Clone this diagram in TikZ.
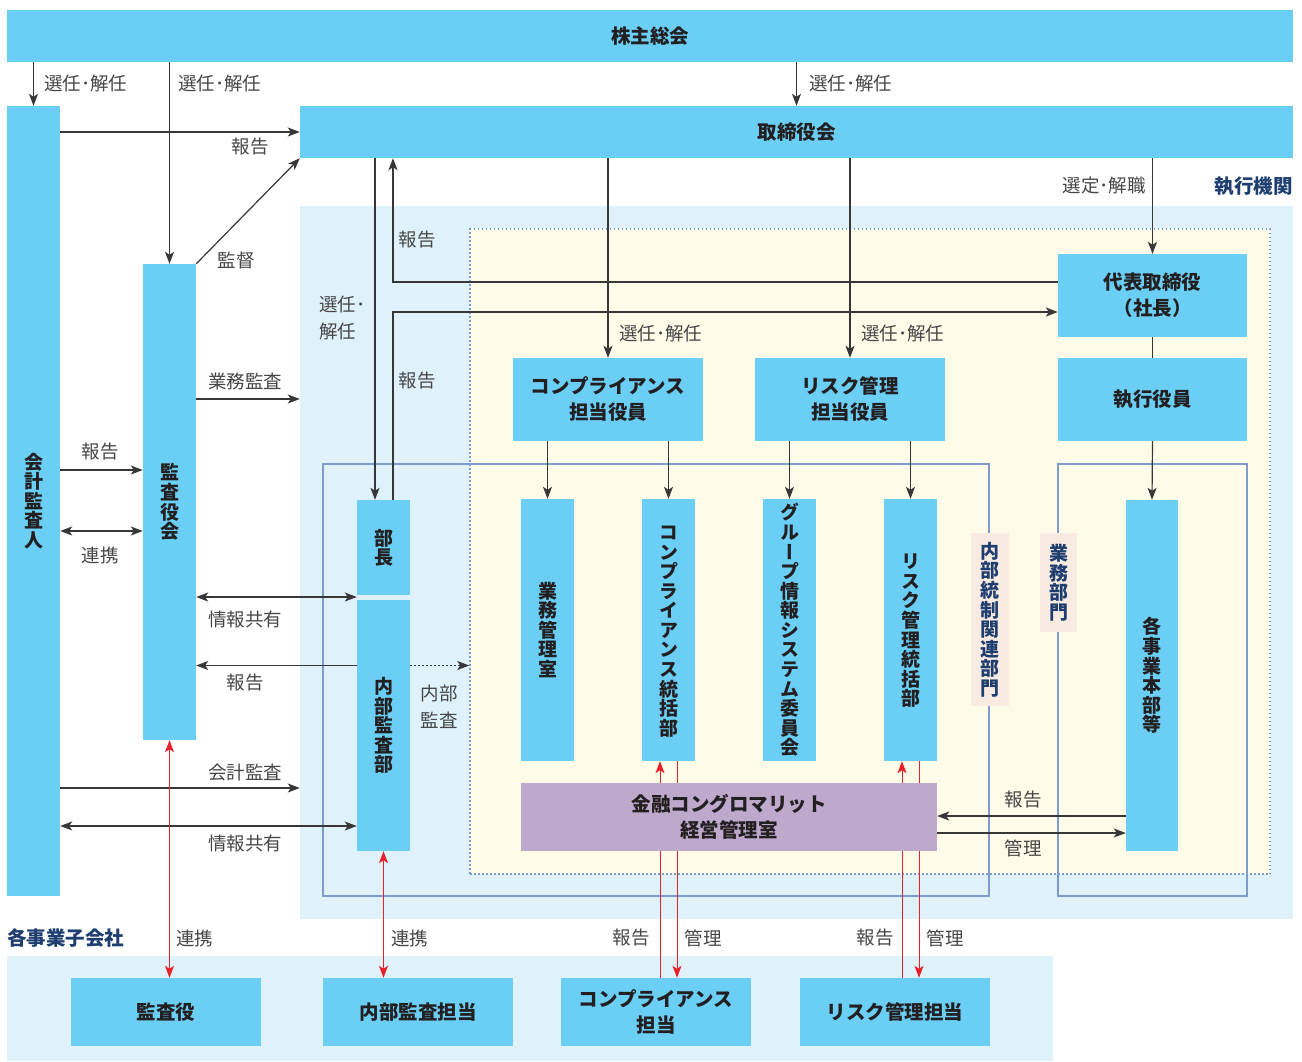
\documentclass[tikz,border=0pt]{standalone}
\usepackage{fontspec}
\usepackage{tikz}
\usetikzlibrary{arrows.meta}
\newfontfamily\jp{Noto Sans CJK JP}
\newfontfamily\jpv{Noto Sans CJK JP}[RawFeature=+vert]
\definecolor{orgcyan}{RGB}{106,206,245}
\definecolor{orgpale}{RGB}{223,242,251}
\definecolor{orgcream}{RGB}{255,251,233}
\definecolor{orgpurple}{RGB}{190,168,204}
\definecolor{orgframe}{RGB}{125,155,205}
\definecolor{orgpink}{RGB}{250,235,226}
\definecolor{orgnavy}{RGB}{30,62,112}
\definecolor{orgtext}{RGB}{35,31,32}
\definecolor{orggray}{RGB}{70,70,70}
\definecolor{orgline}{RGB}{55,55,55}
\definecolor{orgred}{RGB}{232,32,42}
\pgfdeclarelayer{back}
\pgfdeclarelayer{mid}
\pgfsetlayers{back,mid,main}
% vertical text: one character per row
\def\tatetext#1{\vbox{\offinterlineskip\tatechar#1\relax}}
\def\tatechar#1{\ifx\relax#1\else\hbox to 1em{\hss\vrule height .9em depth .13em width 0pt #1\hss}\expandafter\tatechar\fi}
\tikzset{
  box/.style={fill=orgcyan, text=orgtext, inner sep=0pt, align=center,
    font=\jp\bfseries\fontsize{19.5}{26}\selectfont},
  tbox/.style={fill=orgcyan, text=orgtext, inner sep=0pt,
    font=\jpv\bfseries\fontsize{19}{20}\selectfont},
  tag/.style={fill=orgpink, text=orgnavy, inner sep=0pt,
    font=\jpv\bfseries\fontsize{19}{20}\selectfont},
  area/.style={fill=orgpale, inner sep=0pt},
  lbl/.style={text=orggray, inner sep=0pt, font=\jp\fontsize{18.5}{27}\selectfont},
  head/.style={text=orgnavy, inner sep=0pt, font=\jp\bfseries\fontsize{19.5}{24}\selectfont},
  arr/.style={draw=orgline, line width=1.2pt},
  dotarr/.style={arr, line width=1.6pt, dash pattern=on 1.6pt off 2.4pt},
  rarr/.style={draw=orgred, line width=1pt},
  frame/.style={draw=orgframe, line width=2pt}
}

\begin{document}
\begin{tikzpicture}[x=1pt, y=-1pt, >={Stealth[length=12pt,width=9pt,inset=3pt]}]
  \useasboundingbox (0,0) rectangle (1302,1061);

  % areas
  \begin{pgfonlayer}{back}
    \node[area, minimum width=993pt, minimum height=713pt] (exec) at (796.5,562.5) {};
    \node[area, minimum width=1046pt, minimum height=105pt] (sub) at (530,1008.5) {};
    \node[fill=orgcream, draw=orgframe, line width=1.5pt, dash pattern=on 1.5pt off 2.5pt,
      inner sep=0pt, minimum width=800pt, minimum height=645pt] (cream) at (870,551.5) {};
    \draw[frame] (323,464) rectangle (989,896);
    \draw[frame] (1058,464) rectangle (1247,896);
  \end{pgfonlayer}

  % boxes
  \node[box, minimum width=1286pt, minimum height=52pt] (soukai) at (650,36) {株主総会};
  \node[box, minimum width=993pt, minimum height=52pt] (tori) at (796.5,132) {取締役会};
  \node[tbox, minimum width=53pt, minimum height=790pt] (kaikei) at (33.5,501) {\tatetext{会計監査人}};
  \node[tbox, minimum width=53pt, minimum height=476pt] (kansa) at (169.5,502) {\tatetext{監査役会}};
  \node[box, minimum width=189pt, minimum height=83pt] (daihyo) at (1152.5,295.5) {代表取締役\\（社長）};
  \node[box, minimum width=189pt, minimum height=83pt] (shikko) at (1152.5,399.5) {執行役員};
  \node[box, minimum width=190pt, minimum height=83pt] (compy) at (608,399.5) {コンプライアンス\\担当役員};
  \node[box, minimum width=190pt, minimum height=83pt] (risky) at (850,399.5) {リスク管理\\担当役員};
  \node[tbox, minimum width=53pt, minimum height=95pt] (bucho) at (383.5,547.5) {\tatetext{部長}};
  \node[tbox, minimum width=53pt, minimum height=251pt] (naibu) at (383.5,725.5) {\tatetext{内部監査部}};
  \node[tbox, minimum width=53pt, minimum height=262pt] (gyomu) at (547.5,630) {\tatetext{業務管理室}};
  \node[tbox, minimum width=53pt, minimum height=262pt] (compt) at (668.5,630) {\tatetext{コンプライアンス統括部}};
  \node[tbox, minimum width=53pt, minimum height=262pt] (group) at (789.5,630) {\tatetext{グループ情報システム委員会}};
  \node[tbox, minimum width=53pt, minimum height=262pt] (riskt) at (910.5,630) {\tatetext{リスク管理統括部}};
  \node[tbox, minimum width=52pt, minimum height=351pt] (kakuji) at (1152,675.5) {\tatetext{各事業本部等}};
  \node[box, fill=orgpurple, minimum width=416pt, minimum height=68pt] (kinyu) at (729,817) {金融コングロマリット\\経営管理室};
  \node[tag, minimum width=38pt, minimum height=173pt] (tagnaibu) at (989.5,619.5) {\tatetext{内部統制関連部門}};
  \node[tag, minimum width=37pt, minimum height=99pt] (taggyomu) at (1058.5,582.5) {\tatetext{業務部門}};
  \node[box, minimum width=190pt, minimum height=68pt] (kansayaku) at (166,1012) {監査役};
  \node[box, minimum width=190pt, minimum height=68pt] (naibutan) at (418,1012) {内部監査担当};
  \node[box, minimum width=190pt, minimum height=68pt] (comptan) at (656,1012) {コンプライアンス\\担当};
  \node[box, minimum width=190pt, minimum height=68pt] (risktan) at (895,1012) {リスク管理担当};

  % headings
  \node[head, anchor=east] (hexec) at (1293,186) {執行機関};
  \node[head, anchor=west] (hsub) at (7,938) {各事業子会社};

  % routing points
  \coordinate (xa) at (375,0);
  \coordinate (ra) at (393,282);
  \coordinate (rb) at (393,312);
  \coordinate (ya) at (0,470);
  \coordinate (yb) at (0,531);
  \coordinate (yc) at (0,399);
  \coordinate (yd) at (0,597);
  \coordinate (ye) at (0,665.5);
  \coordinate (yf) at (0,788);
  \coordinate (yg) at (0,826);
  \coordinate (yh) at (0,816);
  \coordinate (yi) at (0,833);
  \coordinate (xr1) at (660,0);
  \coordinate (xr2) at (677,0);
  \coordinate (xr3) at (902,0);
  \coordinate (xr4) at (919,0);

  % connectors
  \begin{pgfonlayer}{mid}
    \draw[arr,->] (kaikei.north |- soukai.south) -- (kaikei.north);
    \draw[arr,->] (kansa.north |- soukai.south) -- (kansa.north);
    \draw[arr,->] (tori.north |- soukai.south) -- (tori.north);
    \draw[arr,->] (kaikei.east |- tori.west) -- (tori.west);
    \draw[arr,->] (kansa.north east) -- (tori.south west);
    \draw[arr,->] (tori.south -| xa) -- (bucho.north -| xa);
    \draw[arr,->] (daihyo.west |- ra) -- (ra) -- (tori.south -| ra);
    \draw[arr,->] (bucho.north -| rb) -- (rb) -- (daihyo.west |- rb);
    \draw[arr,->] (tori.south -| compy.north) -- (compy.north);
    \draw[arr,->] (tori.south -| risky.north) -- (risky.north);
    \draw[arr,->] (tori.south -| daihyo.north) -- (daihyo.north);
    \draw[arr] (daihyo.south) -- (shikko.north);
    \draw[arr,->] (shikko.south) -- (kakuji.north);
    \draw[arr,->] (compy.south -| gyomu.north) -- (gyomu.north);
    \draw[arr,->] (compy.south -| compt.north) -- (compt.north);
    \draw[arr,->] (risky.south -| group.north) -- (group.north);
    \draw[arr,->] (risky.south -| riskt.north) -- (riskt.north);
    \draw[arr,->] (kaikei.east |- ya) -- (kansa.west |- ya);
    \draw[arr,<->] (kaikei.east |- yb) -- (kansa.west |- yb);
    \draw[arr,->] (kansa.east |- yc) -- (exec.west |- yc);
    \draw[arr,<->] (kansa.east |- yd) -- (bucho.west |- yd);
    \draw[arr,->] (naibu.west |- ye) -- (kansa.east |- ye);
    \draw[dotarr,->] (naibu.east |- ye) -- (cream.west |- ye);
    \draw[arr,->] (kaikei.east |- yf) -- (exec.west |- yf);
    \draw[arr,<->] (kaikei.east |- yg) -- (naibu.west |- yg);
    \draw[arr,->] (kakuji.west |- yh) -- (kinyu.east |- yh);
    \draw[arr,->] (kinyu.east |- yi) -- (kakuji.west |- yi);
    \draw[rarr,<->] (kansa.south) -- (kansa.south |- kansayaku.north);
    \draw[rarr,<->] (naibu.south) -- (naibu.south |- naibutan.north);
    \draw[rarr,->] (comptan.north -| xr1) -- (compt.south -| xr1);
    \draw[rarr,->] (compt.south -| xr2) -- (comptan.north -| xr2);
    \draw[rarr,->] (risktan.north -| xr3) -- (riskt.south -| xr3);
    \draw[rarr,->] (riskt.south -| xr4) -- (risktan.north -| xr4);
  \end{pgfonlayer}

  % connector labels
  \node[lbl, anchor=west] (lsen1) at (44,83) {選任･解任};
  \node[lbl, anchor=west] (lsen2) at (178,83) {選任･解任};
  \node[lbl, anchor=west] (lsen3) at (809,83) {選任･解任};
  \node[lbl] (lhou1) at (250,147) {報告};
  \node[lbl] (lkan) at (236,260) {監督};
  \node[lbl] (lhou2) at (417,240) {報告};
  \node[lbl] (lhou3) at (417,381) {報告};
  \node[lbl, anchor=west, align=left] (lsen4) at (319,318) {選任･\\解任};
  \node[lbl, anchor=west] (lsen5) at (619,333) {選任･解任};
  \node[lbl, anchor=west] (lsen6) at (861,333) {選任･解任};
  \node[lbl, anchor=east] (lsentei) at (1146,186) {選定･解職};
  \node[lbl] (lhou4) at (100,452) {報告};
  \node[lbl] (lren1) at (100,555) {連携};
  \node[lbl] (lgyo) at (245,381) {業務監査};
  \node[lbl] (ljoho1) at (245,619) {情報共有};
  \node[lbl] (lhou5) at (245,683) {報告};
  \node[lbl, align=center] (lnaibu) at (439,707) {内部\\監査};
  \node[lbl] (lkaikei) at (245,772) {会計監査};
  \node[lbl] (ljoho2) at (245,843) {情報共有};
  \node[lbl, anchor=west] (lren2) at (176,938) {連携};
  \node[lbl, anchor=west] (lren3) at (391,938) {連携};
  \node[lbl] (lhou6) at (631,938) {報告};
  \node[lbl] (lkanri1) at (703,938) {管理};
  \node[lbl] (lhou7) at (875,938) {報告};
  \node[lbl] (lkanri2) at (945,938) {管理};
  \node[lbl] (lhou8) at (1023,800) {報告};
  \node[lbl] (lkanri3) at (1023,848) {管理};
\end{tikzpicture}
\end{document}
